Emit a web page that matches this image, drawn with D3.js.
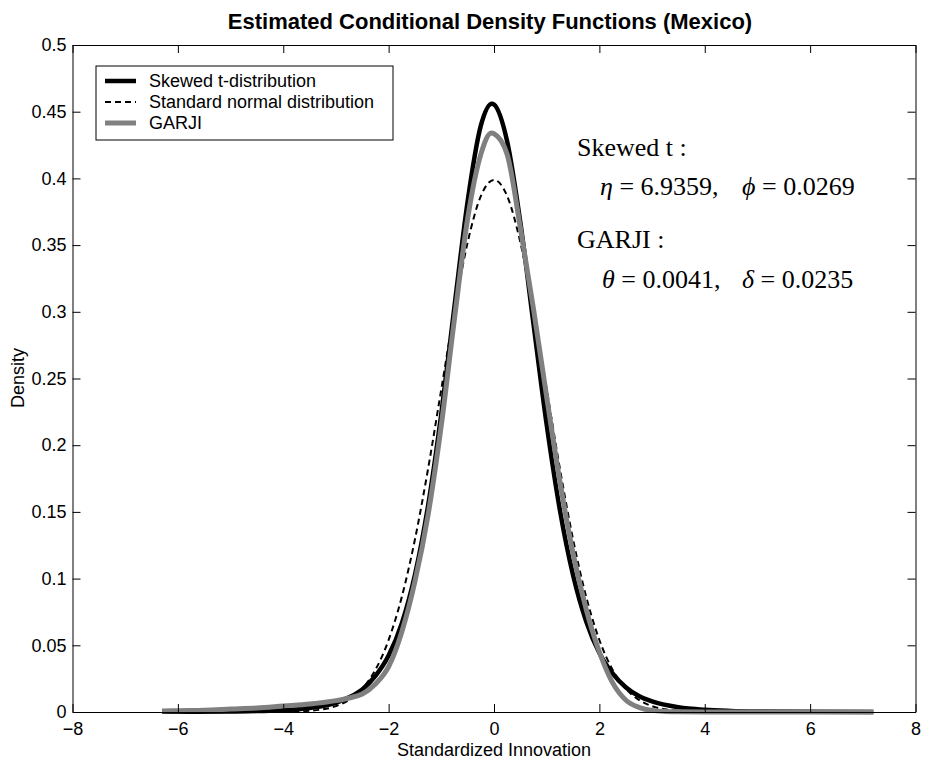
<!DOCTYPE html>
<html>
<head>
<meta charset="utf-8">
<script src="https://cdn.jsdelivr.net/npm/d3@7"></script>
<style>
  body { margin: 0; background: #fff; }
  text { font-family: Arial, "Liberation Sans", sans-serif; }
  text.serif { font-family: "Liberation Serif", "Times New Roman", serif; }
</style>
</head>
<body>
<svg id="chart" width="930" height="765"></svg>
<script>
// axis ticks
const xTicks = [-8, -6, -4, -2, 0, 2, 4, 6, 8]
const yTicks = [0, 0.05, 0.1, 0.15, 0.2, 0.25, 0.3, 0.35, 0.4, 0.45, 0.5]
const yTickLabels = ['0', '0.05', '0.1', '0.15', '0.2', '0.25', '0.3', '0.35', '0.4', '0.45', '0.5']

// skewed t density
const skewX = [-6.3, -6, -5, -4.5, -4, -3.5, -3, -2.75, -2.5, -2.25, -2, -1.75, -1.5, -1.25, -1, -0.75, -0.5, -0.25, -0.04, 0, 0.25, 0.5, 0.75, 1, 1.25, 1.5, 1.75, 2, 2.25, 2.5, 2.75, 3, 3.5, 4, 4.5, 5, 6, 7.2]
const skewY = [0.0001, 0.0001, 0.0003, 0.0007, 0.0013, 0.003, 0.0069, 0.011, 0.0169, 0.027, 0.0423, 0.0664, 0.1029, 0.1549, 0.2236, 0.3041, 0.3829, 0.4395, 0.456, 0.4554, 0.4277, 0.367, 0.2907, 0.2153, 0.1515, 0.1027, 0.0679, 0.0443, 0.029, 0.0186, 0.012, 0.0079, 0.0035, 0.0016, 0.0008, 0.0004, 0.0001, 0.00005]

// standard normal density (dashed curve)
const normX = [-4, -3.5, -3, -2.75, -2.5, -2.25, -2, -1.75, -1.5, -1.25, -1, -0.75, -0.5, -0.25, 0, 0.25, 0.5, 0.75, 1, 1.25, 1.5, 1.75, 2, 2.25, 2.5, 2.75, 3, 3.5, 4]
const normY = [0.0001, 0.0009, 0.0044, 0.0091, 0.0175, 0.0317, 0.054, 0.0863, 0.1295, 0.1826, 0.242, 0.3011, 0.3521, 0.3867, 0.3989, 0.3867, 0.3521, 0.3011, 0.242, 0.1826, 0.1295, 0.0863, 0.054, 0.0317, 0.0175, 0.0091, 0.0044, 0.0009, 0.0001]

// GARJI density (grey curve)
const garjiX = [-6.3, -6, -5.5, -5, -4.5, -4, -3.5, -3, -2.75, -2.5, -2.25, -2, -1.75, -1.5, -1.25, -1, -0.75, -0.5, -0.25, -0.05, 0, 0.25, 0.5, 0.75, 1, 1.25, 1.5, 1.75, 2, 2.25, 2.5, 2.75, 3, 3.25, 3.5, 4, 5, 6, 7.2]
const garjiY = [0.0007, 0.001, 0.0014, 0.0022, 0.003, 0.0045, 0.006, 0.0085, 0.0105, 0.0135, 0.021, 0.034, 0.06, 0.098, 0.148, 0.215, 0.295, 0.37, 0.418, 0.434, 0.4335, 0.418, 0.363, 0.302, 0.236, 0.173, 0.119, 0.077, 0.045, 0.022, 0.009, 0.0035, 0.0012, 0.0004, 0.0001, 0, 0, 0, 0]

const legendLabels = ['Skewed t-distribution', 'Standard normal distribution', 'GARJI']

const plot = { left: 72.5, right: 915.5, top: 45, bottom: 712 }
const svg = d3.select('#chart')

const x = d3.scaleLinear().domain([-8, 8]).range([plot.left, plot.right])
const y = d3.scaleLinear().domain([0, 0.5]).range([plot.bottom, plot.top])

svg.append('rect').attr('width', 930).attr('height', 765).attr('fill', '#fff')

// curves
const line = d3.line().x((d) => x(d[0])).y((d) => y(d[1])).curve(d3.curveMonotoneX)
const curves = svg.append('g').attr('fill', 'none').attr('stroke-linejoin', 'round')

curves.append('path')
  .attr('d', line(d3.zip(skewX, skewY)))
  .attr('stroke', '#000').attr('stroke-width', 4.5)
curves.append('path')
  .attr('d', line(d3.zip(normX, normY)))
  .attr('stroke', '#000').attr('stroke-width', 2).attr('stroke-dasharray', '6,4')
curves.append('path')
  .attr('d', line(d3.zip(garjiX, garjiY)))
  .attr('stroke', '#808080').attr('stroke-width', 5)

// axes, ticks pointing inward like matlab
const fmtY = (d) => yTickLabels[yTicks.indexOf(d)]
const styleAxis = (g) => {
  g.selectAll('path, line').attr('stroke', '#000').attr('stroke-width', 1)
  g.selectAll('text').attr('font-size', 18).attr('fill', '#000').attr('font-family', 'Arial, "Liberation Sans", sans-serif')
}
svg.append('g').attr('transform', `translate(0,${plot.bottom})`)
  .call(d3.axisBottom(x).tickValues(xTicks).tickSizeInner(-8).tickSizeOuter(0).tickPadding(10))
  .call(styleAxis)
svg.append('g').attr('transform', `translate(0,${plot.top})`)
  .call(d3.axisTop(x).tickValues(xTicks).tickSizeInner(-8).tickSizeOuter(0).tickFormat(''))
  .call(styleAxis)
svg.append('g').attr('transform', `translate(${plot.left},0)`)
  .call(d3.axisLeft(y).tickValues(yTicks).tickSizeInner(-8).tickSizeOuter(0).tickPadding(6).tickFormat(fmtY))
  .call(styleAxis)
svg.append('g').attr('transform', `translate(${plot.right},0)`)
  .call(d3.axisRight(y).tickValues(yTicks).tickSizeInner(-8).tickSizeOuter(0).tickFormat(''))
  .call(styleAxis)
svg.selectAll('.domain').attr('fill', 'none')

// titles
svg.append('text').attr('x', 490).attr('y', 29).attr('text-anchor', 'middle')
  .attr('font-size', 22).attr('font-weight', 'bold').text('Estimated Conditional Density Functions (Mexico)')
svg.append('text').attr('x', (plot.left + plot.right) / 2).attr('y', 756).attr('text-anchor', 'middle')
  .attr('font-size', 18).text('Standardized Innovation')
svg.append('text').attr('transform', 'translate(24,378) rotate(-90)').attr('text-anchor', 'middle')
  .attr('font-size', 18).text('Density')

// legend
const legend = svg.append('g').attr('transform', 'translate(96,66)')
legend.append('rect').attr('width', 297).attr('height', 74).attr('fill', '#fff').attr('stroke', '#000')
const legendStyles = [
  { stroke: '#000', width: 4.5, dash: null },
  { stroke: '#000', width: 2, dash: '6,4' },
  { stroke: '#808080', width: 5, dash: null }
]
legendLabels.forEach((lab, i) => {
  const ly = 15 + i * 21
  legend.append('line').attr('x1', 9).attr('x2', 40).attr('y1', ly).attr('y2', ly)
    .attr('stroke', legendStyles[i].stroke).attr('stroke-width', legendStyles[i].width)
    .attr('stroke-dasharray', legendStyles[i].dash)
  legend.append('text').attr('x', 53).attr('y', ly + 6).attr('font-size', 18).text(lab)
})

// parameter annotations
const note = svg.append('g').attr('font-size', 26)
note.append('text').attr('class', 'serif').attr('x', 577).attr('y', 156).text('Skewed t :')
const eq1 = note.append('text').attr('class', 'serif').attr('y', 195)
eq1.append('tspan').attr('x', 600).attr('font-style', 'italic').text('η')
eq1.append('tspan').text(' = 6.9359,')
eq1.append('tspan').attr('x', 742).attr('font-style', 'italic').text('ϕ')
eq1.append('tspan').text(' = 0.0269')
note.append('text').attr('class', 'serif').attr('x', 577).attr('y', 248).text('GARJI :')
const eq2 = note.append('text').attr('class', 'serif').attr('y', 288)
eq2.append('tspan').attr('x', 602).attr('font-style', 'italic').text('θ')
eq2.append('tspan').text(' = 0.0041,')
eq2.append('tspan').attr('x', 742).attr('font-style', 'italic').text('δ')
eq2.append('tspan').text(' = 0.0235')
</script>
</body>
</html>
